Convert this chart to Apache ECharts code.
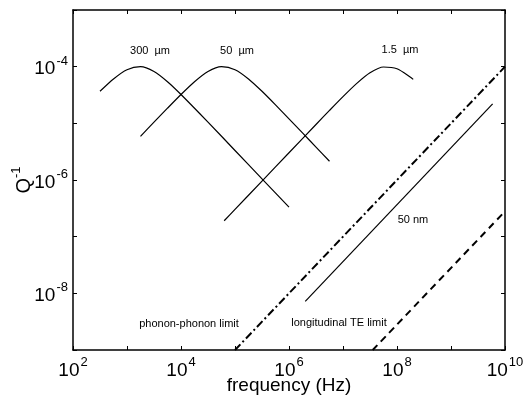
<!DOCTYPE html>
<html><head><meta charset="utf-8">
<script src="https://cdn.jsdelivr.net/npm/echarts@6/dist/echarts.min.js"></script>
<style>html,body{margin:0;padding:0;background:#fff}#c{width:524px;height:401px}</style>
</head><body><div id="c"></div>
<script>
// Data: [frequency (Hz), Q^-1]
const curve300um = [[316,3.68e-5],[562,6.08e-5],[1000,8.84e-5],[1778,9.98e-5],[3162,8.23e-5],[5623,5.43e-5],[10000,3.23e-5],[31623,1.05e-5],[100000,3.32e-6],[316228,1.05e-6],[1000000,3.32e-7]];
const curve50um = [[1778,5.90e-6],[3162,1.047e-5],[5623,1.85e-5],[10000,3.23e-5],[17783,5.43e-5],[31623,8.23e-5],[56234,9.98e-5],[100000,8.84e-5],[177828,6.08e-5],[316228,3.68e-5],[562341,2.12e-5],[1000000,1.20e-5],[1778279,6.77e-6],[3162278,3.81e-6],[5623413,2.14e-6]];
const curve1p5um = [[63096,1.91e-7],[100000,3.03e-7],[316228,9.57e-7],[1000000,3.03e-6],[3162278,9.55e-6],[5623413,1.69e-5],[10000000,2.96e-5],[17782794,5.02e-5],[31622777,7.79e-5],[56234133,9.87e-5],[100000000,9.20e-5],[177827941,6.53e-5],[199526231,5.97e-5]];
const curve50nm = [[2.0e6,7.2e-9],[5.9e9,2.2e-5]];
const phononLimit = [[1e5,1e-9],[1e10,1e-4]];
const longTELimit = [[3.55e7,1e-9],[1e10,2.8e-7]];
const xTickExponents = [2,4,6,8,10];
const yTickExponents = [-4,-6,-8];
const annotations = ['300  µm','50  µm','1.5  µm','50 nm','phonon-phonon limit','longitudinal TE limit'];

const FONT = 'Liberation Sans, Arial, Helvetica, sans-serif';
const rich = {
  b: {fontSize: 19, fontFamily: FONT, color: '#000', lineHeight: 24, verticalAlign: 'bottom'},
  s: {fontSize: 13, fontFamily: FONT, color: '#000', lineHeight: 24, verticalAlign: 'top', padding:[0,0,0,1]}
};
function expLabel(list){
  return function(v){
    const e = Math.round(Math.log10(v));
    return list.indexOf(e) >= 0 ? '{b|10}{s|' + e + '}' : '';
  };
}
const axLine = {show: true, lineStyle: {color: '#000', width: 1.5}};
const tick = {show: true, inside: true, length: 4, lineStyle: {color: '#000', width: 1}};
const chart = echarts.init(document.getElementById('c'), null, {renderer: 'canvas'});
const lineS = (d, style) => ({type: 'line', data: d, showSymbol: false, symbol: 'none', smooth: 0.25, animation: false,
  lineStyle: Object.assign({color: '#000', width: 1.2}, style), xAxisIndex: 0, yAxisIndex: 0});
chart.setOption({
  animation: false,
  backgroundColor: '#fff',
  grid: {left: 73, right: 19, top: 10, bottom: 51, containLabel: false, outerBoundsMode: 'none'},
  xAxis: [
    {type: 'log', logBase: 10, min: 1e2, max: 1e10, splitNumber: 8, position: 'bottom',
     axisLine: axLine, axisTick: tick, splitLine: {show: false},
     axisLabel: {formatter: expLabel(xTickExponents), rich: rich, margin: 6, showMinLabel: true, showMaxLabel: true},
     name: 'frequency (Hz)', nameLocation: 'middle', nameGap: 26, nameMoveOverlap: false,
     nameTextStyle: {fontSize: 19, fontFamily: FONT, color: '#000'}},
    {type: 'log', logBase: 10, min: 1e2, max: 1e10, splitNumber: 8, position: 'top',
     axisLine: axLine, axisTick: tick, splitLine: {show: false}, axisLabel: {show: false}}
  ],
  yAxis: [
    {type: 'log', logBase: 10, min: 1e-9, max: 1e-3, splitNumber: 6, position: 'left',
     axisLine: axLine, axisTick: tick, splitLine: {show: false},
     axisLabel: {formatter: expLabel(yTickExponents), rich: rich, margin: 5},
     name: '{q|Q}{s|-1}', nameLocation: 'middle', nameGap: 39, nameRotate: 90, nameMoveOverlap: false,
     nameTextStyle: {rich: {q: {fontSize: 20, fontFamily: FONT, color: '#000', lineHeight: 24, verticalAlign: 'bottom'},
                            s: {fontSize: 13, fontFamily: FONT, color: '#000', lineHeight: 24, verticalAlign: 'top'}}}},
    {type: 'log', logBase: 10, min: 1e-9, max: 1e-3, splitNumber: 6, position: 'right',
     axisLine: axLine, axisTick: tick, splitLine: {show: false}, axisLabel: {show: false}}
  ],
  series: [
    lineS(curve300um, {}),
    lineS(curve50um, {}),
    lineS(curve1p5um, {}),
    lineS(curve50nm, {}),
    lineS(phononLimit, {width: 2, type: [8, 3, 2, 3]}),
    lineS(longTELimit, {width: 2, type: [7, 5]})
  ],
  graphic: [
    {type: 'text', x: 150, y: 51, style: {text: annotations[0], font: '11px ' + FONT, fill: '#000', align: 'center', verticalAlign: 'middle'}},
    {type: 'text', x: 237, y: 51, style: {text: annotations[1], font: '11px ' + FONT, fill: '#000', align: 'center', verticalAlign: 'middle'}},
    {type: 'text', x: 400, y: 50, style: {text: annotations[2], font: '11px ' + FONT, fill: '#000', align: 'center', verticalAlign: 'middle'}},
    {type: 'text', x: 413, y: 220, style: {text: annotations[3], font: '11px ' + FONT, fill: '#000', align: 'center', verticalAlign: 'middle'}},
    {type: 'text', x: 189, y: 324, style: {text: annotations[4], font: '11px ' + FONT, fill: '#000', align: 'center', verticalAlign: 'middle'}},
    {type: 'text', x: 339, y: 323, style: {text: annotations[5], font: '11px ' + FONT, fill: '#000', align: 'center', verticalAlign: 'middle'}}
  ]
});
</script></body></html>
